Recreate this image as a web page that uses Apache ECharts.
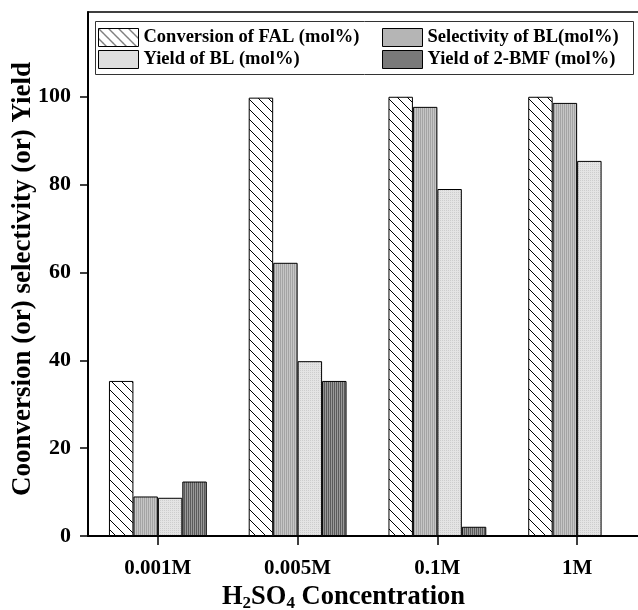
<!DOCTYPE html>
<html>
<head>
<meta charset="utf-8">
<script src="https://cdn.jsdelivr.net/npm/echarts@6/dist/echarts.min.js"></script>
<style>html,body{margin:0;padding:0;background:#fff}#c{width:638px;height:610px}</style>
</head>
<body>
<div id="c"></div>
<script>
// ---- data ----
var categories = ['0.001M', '0.005M', '0.1M', '1M'];
var seriesNames = ['Conversion of FAL (mol%)', 'Selectivity of BL(mol%)', 'Yield of BL (mol%)', 'Yield of 2-BMF (mol%)'];
var conversionFAL = [35.3, 99.8, 100, 100];
var selectivityBL = [9.0, 62.2, 97.7, 98.6];
var yieldBL = [8.7, 39.8, 79.0, 85.4];
var yield2BMF = [12.4, 35.3, 2.1, 0];
var yTicks = [0, 20, 40, 60, 80, 100];
var yMax = 119.3;

// ---- patterns ----
function mk(w, h, draw) {
  var c = document.createElement('canvas');
  c.width = w; c.height = h;
  var g = c.getContext('2d');
  draw(g, w, h);
  return { image: c, repeat: 'repeat' };
}
var hatch = mk(10, 10, function (g, w, h) {
  g.fillStyle = '#fff'; g.fillRect(0, 0, w, h);
  g.strokeStyle = '#000'; g.lineWidth = 1;
  g.beginPath();
  g.moveTo(-1, -1); g.lineTo(w + 1, h + 1);
  g.moveTo(-1, h - 1); g.lineTo(1, h + 1);
  g.moveTo(w - 1, -1); g.lineTo(w + 1, 1);
  g.stroke();
});
var selPat = mk(4, 4, function (g, w, h) {
  g.fillStyle = '#c6c6c6'; g.fillRect(0, 0, w, h);
  g.fillStyle = '#a4a4a4'; g.fillRect(0, 0, 1, h); g.fillRect(2, 0, 1, h);
});
var yblPat = mk(4, 4, function (g, w, h) {
  g.fillStyle = '#e4e4e4'; g.fillRect(0, 0, w, h);
  g.fillStyle = '#cdcdcd'; g.fillRect(0, 0, 1, 1); g.fillRect(2, 2, 1, 1); g.fillRect(2, 0, 1, 1); g.fillRect(0, 2, 1, 1);
});
var bmfPat = mk(4, 4, function (g, w, h) {
  g.fillStyle = '#999'; g.fillRect(0, 0, w, h);
  g.fillStyle = '#5a5a5a'; g.fillRect(0, 0, 1, h); g.fillRect(2, 0, 1, h);
});
var patterns = [hatch, selPat, yblPat, bmfPat];
var dataSets = [conversionFAL, selectivityBL, yieldBL, yield2BMF];

var F = "'Liberation Serif', 'Times New Roman', serif";

var chart = echarts.init(document.getElementById('c'), null, { renderer: 'canvas' });
var series = seriesNames.map(function (n, i) {
  return {
    name: n,
    type: 'bar',
    data: dataSets[i],
    barGap: '0%',
    barCategoryGap: '30%',
    itemStyle: { color: patterns[i], borderColor: '#000', borderWidth: 1 },
    emphasis: { disabled: true },
    animation: false
  };
});

var legendText = { fontFamily: F, fontWeight: 'bold', fontSize: 18.5, lineHeight: 18, color: '#000' };
function legendCol(names, left) {
  return {
    data: names,
    orient: 'vertical', left: left, top: 23,
    icon: 'rect',
    itemWidth: 40, itemHeight: 18, itemGap: 3,
    textStyle: legendText,
    itemStyle: { borderColor: '#000', borderWidth: 1 },
    selectedMode: false
  };
}
chart.setOption({
  animation: false,
  backgroundColor: '#fff',
  grid: { left: 88, top: 12, width: 559, bottom: 74, containLabel: false, outerBoundsMode: 'none' },
  legend: [
    legendCol([seriesNames[0], seriesNames[2]], 93),
    legendCol([seriesNames[1], seriesNames[3]], 377)
  ],
  graphic: [
    { type: 'rect', shape: { x: 95.5, y: 21.5, width: 538, height: 53 }, style: { fill: null, stroke: '#333', lineWidth: 1 }, z: 100 }
  ],
  xAxis: [
    {
      type: 'category',
      data: categories,
      boundaryGap: true,
      axisLine: { show: true, lineStyle: { color: '#000', width: 2 } },
      axisTick: { show: true, alignWithLabel: true, length: 9, lineStyle: { color: '#000', width: 1.5 } },
      axisLabel: { fontFamily: F, fontWeight: 'bold', fontSize: 21, color: '#000', margin: 22 },
      name: '{m|H}{s|2}{m|SO}{s|4}{m| Concentration}',
      nameLocation: 'middle',
      nameGap: 46,
      nameTextStyle: {
        padding: [0, 48, 0, 0],
        rich: {
          m: { fontFamily: F, fontWeight: 'bold', fontSize: 26.5, color: '#000', lineHeight: 30, verticalAlign: 'middle' },
          s: { fontFamily: F, fontWeight: 'bold', fontSize: 17, color: '#000', lineHeight: 16, verticalAlign: 'bottom' }
        }
      }
    },
    {
      type: 'category',
      data: categories,
      position: 'top',
      axisLine: { show: true, lineStyle: { color: '#000', width: 1.5 } },
      axisTick: { show: false },
      axisLabel: { show: false }
    }
  ],
  yAxis: {
    type: 'value',
    min: 0,
    max: yMax,
    interval: 20,
    axisLine: { show: true, lineStyle: { color: '#000', width: 2 } },
    axisTick: { show: true, length: 8, customValues: yTicks, lineStyle: { color: '#000', width: 1.5 } },
    axisLabel: { customValues: yTicks, fontFamily: F, fontWeight: 'bold', fontSize: 22, color: '#000', margin: 17 },
    splitLine: { show: false },
    name: 'Coonversion (or) selectivity (or) Yield',
    nameLocation: 'middle',
    nameGap: 51,
    nameMoveOverlap: false,
    nameTextStyle: { fontFamily: F, fontWeight: 'bold', fontSize: 27, color: '#000', padding: [0, 10, 0, 0] }
  },
  series: series
});
</script>
</body>
</html>
